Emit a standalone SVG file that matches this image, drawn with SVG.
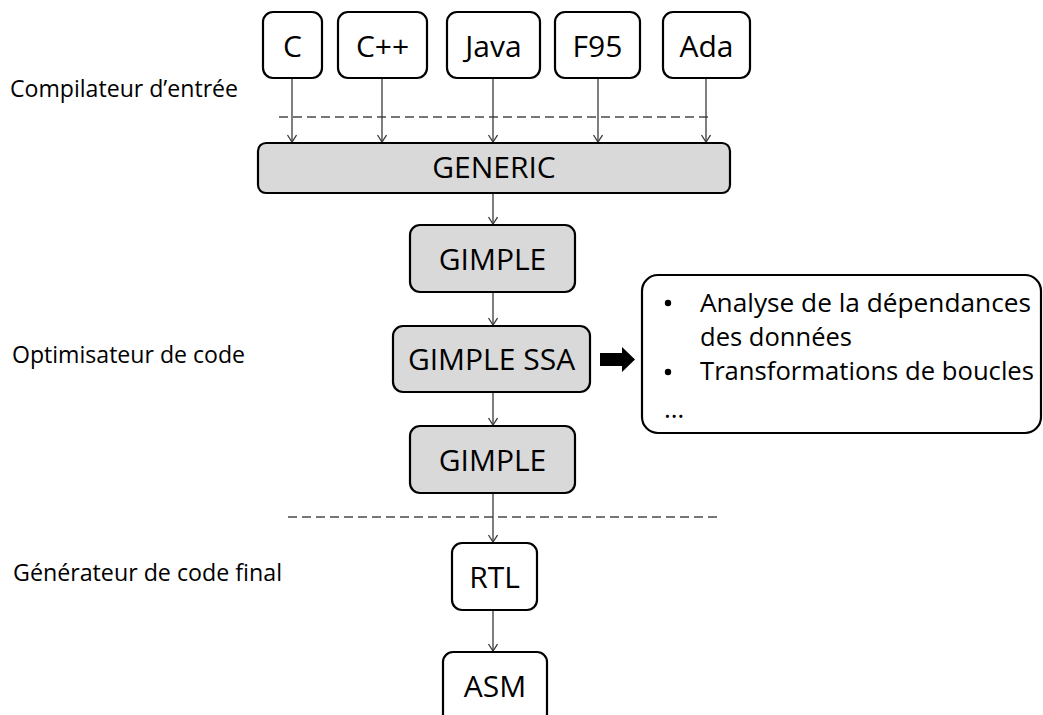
<svg xmlns="http://www.w3.org/2000/svg" width="1043" height="715" viewBox="0 0 1043 715">
<style>
  .box { fill: #ffffff; stroke: #000000; stroke-width: 2.2; }
  .gbox { fill: #d9d9d9; stroke: #000000; stroke-width: 2.2; }
  .lbl { font-family: "Open Sans", "Liberation Sans", sans-serif; font-size: 30px; fill: #000000; text-anchor: middle; }
  .side { font-family: "Open Sans", "Liberation Sans", sans-serif; font-size: 23px; fill: #000000; }
  .note { font-family: "Open Sans", "Liberation Sans", sans-serif; font-size: 26px; fill: #000000; }
  .conn { stroke: #3a3a3a; stroke-width: 1.3; fill: none; marker-end: url(#arr); }
  .dash { stroke: #4a4a4a; stroke-width: 1.3; fill: none; stroke-dasharray: 9 5; }
</style>
<defs>
  <marker id="arr" markerUnits="userSpaceOnUse" markerWidth="12" markerHeight="12" refX="8" refY="5" orient="auto">
    <path d="M1,0.5 L8,5 L1,9.5" fill="none" stroke="#3a3a3a" stroke-width="1.3"/>
  </marker>
</defs>
<rect width="1043" height="715" fill="#ffffff"/>

<g id="labels">
  <text class="side" x="10" y="97" textLength="228" lengthAdjust="spacingAndGlyphs">Compilateur d’entrée</text>
  <text class="side" x="12" y="363" textLength="233" lengthAdjust="spacingAndGlyphs">Optimisateur de code</text>
  <text class="side" x="13" y="581" textLength="269" lengthAdjust="spacingAndGlyphs">Générateur de code final</text>
</g>

<g id="separators">
  <line class="dash" x1="279" y1="117" x2="712" y2="117"/>
  <line class="dash" x1="288" y1="517" x2="720" y2="517"/>
</g>

<g id="connectors">
  <line class="conn" x1="292" y1="78" x2="292" y2="142"/>
  <line class="conn" x1="382" y1="78" x2="382" y2="142"/>
  <line class="conn" x1="493" y1="78" x2="493" y2="142"/>
  <line class="conn" x1="598" y1="78" x2="598" y2="142"/>
  <line class="conn" x1="706" y1="78" x2="706" y2="142"/>
  <line class="conn" x1="493" y1="193" x2="493" y2="224"/>
  <line class="conn" x1="493" y1="292" x2="493" y2="325"/>
  <line class="conn" x1="493" y1="392" x2="493" y2="425"/>
  <line class="conn" x1="493" y1="493" x2="493" y2="542"/>
  <line class="conn" x1="493" y1="610" x2="493" y2="651"/>
  <path id="block-arrow" d="M600,353 L622,353 L622,347 L635,359.5 L622,372 L622,366 L600,366 Z" fill="#000000"/>
</g>

<g id="node-c"><rect class="box" x="263" y="12" width="59" height="66" rx="10"/><text class="lbl" x="292.5" y="57">C</text></g>
<g id="node-cpp"><rect class="box" x="338" y="12" width="89" height="66" rx="10"/><text class="lbl" x="382.5" y="57">C++</text></g>
<g id="node-java"><rect class="box" x="447" y="12" width="93" height="66" rx="10"/><text class="lbl" x="493.5" y="57">Java</text></g>
<g id="node-f95"><rect class="box" x="555" y="12" width="85" height="66" rx="10"/><text class="lbl" x="597.5" y="57">F95</text></g>
<g id="node-ada"><rect class="box" x="663" y="12" width="87" height="66" rx="10"/><text class="lbl" x="706.5" y="57">Ada</text></g>

<g id="node-generic"><rect class="gbox" x="258" y="143" width="472" height="50" rx="8"/><text class="lbl" x="494" y="178">GENERIC</text></g>
<g id="node-gimple1"><rect class="gbox" x="410" y="225" width="165" height="67" rx="10"/><text class="lbl" x="492.5" y="270">GIMPLE</text></g>
<g id="node-gimplessa"><rect class="gbox" x="393" y="326" width="197" height="66" rx="10"/><text class="lbl" x="491.5" y="370">GIMPLE SSA</text></g>
<g id="node-gimple2"><rect class="gbox" x="410" y="426" width="165" height="67" rx="10"/><text class="lbl" x="492.5" y="471">GIMPLE</text></g>
<g id="node-rtl"><rect class="box" x="452" y="543" width="85" height="67" rx="10"/><text class="lbl" x="494.5" y="588">RTL</text></g>
<g id="node-asm"><rect class="box" x="443" y="652" width="104" height="75" rx="10"/><text class="lbl" x="495" y="697">ASM</text></g>

<g id="node-notes">
  <rect class="box" x="642" y="275" width="399" height="158" rx="16"/>
  <circle cx="668" cy="303" r="3.2" fill="#000"/>
  <text class="note" x="700" y="312" textLength="331" lengthAdjust="spacingAndGlyphs">Analyse de la dépendances</text>
  <text class="note" x="700" y="346" textLength="152" lengthAdjust="spacingAndGlyphs">des données</text>
  <circle cx="668" cy="372" r="3.2" fill="#000"/>
  <text class="note" x="700" y="380" textLength="334" lengthAdjust="spacingAndGlyphs">Transformations de boucles</text>
  <text class="note" x="664" y="418">…</text>
</g>
</svg>
